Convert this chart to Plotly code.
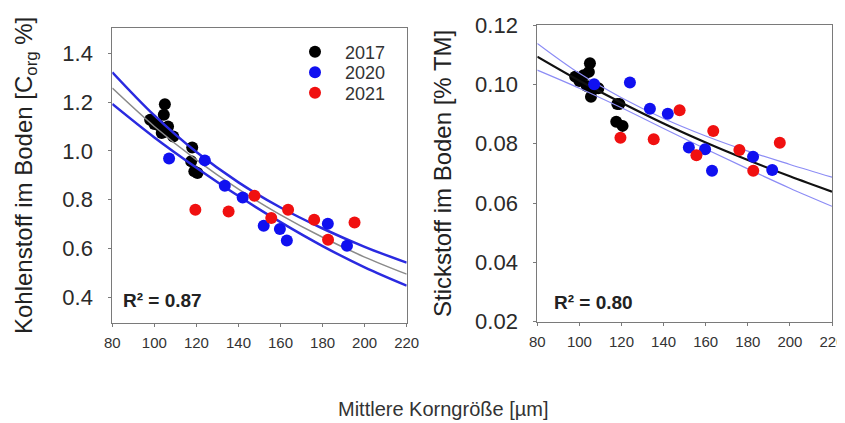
import plotly.graph_objects as go

# ---------------- data ----------------
grain_2017 = [98, 100, 102, 103.5, 104.5, 105, 105.5, 106.5, 109, 117.5, 118, 119, 120.5]
carbon_2017 = [1.127, 1.110, 1.105, 1.073, 1.148, 1.191, 1.079, 1.100, 1.059, 0.957, 1.014, 0.916, 0.909]
nitrogen_2017 = [0.1026, 0.1011, 0.1031, 0.0994, 0.1042, 0.1071, 0.0958, 0.0983, 0.0987, 0.0874, 0.0934, 0.0934, 0.0860]

grain_2020 = [107, 124, 133.5, 142, 152, 159.7, 163, 182.5, 191.6]
carbon_2020 = [0.969, 0.961, 0.857, 0.809, 0.693, 0.680, 0.633, 0.701, 0.611]
nitrogen_2020 = [0.1000, 0.1006, 0.0918, 0.0901, 0.0787, 0.0781, 0.0709, 0.0756, 0.0711]

grain_2021 = [119.5, 135.3, 147.6, 155.6, 163.6, 176, 182.6, 195.2]
carbon_2021 = [0.759, 0.752, 0.816, 0.725, 0.759, 0.718, 0.636, 0.707]
nitrogen_2021 = [0.0820, 0.0815, 0.0913, 0.0761, 0.0843, 0.0779, 0.0709, 0.0803]

fit_x = [80, 100, 120, 140, 160, 180, 200, 220]
carbon_fit = [1.257, 1.100, 0.963, 0.843, 0.738, 0.646, 0.565, 0.495]
carbon_upper = [1.322, 1.145, 0.995, 0.871, 0.768, 0.682, 0.607, 0.542]
carbon_lower = [1.192, 1.055, 0.931, 0.815, 0.708, 0.610, 0.523, 0.448]
nitrogen_fit = [0.1093, 0.1012, 0.0938, 0.0868, 0.0804, 0.0745, 0.0690, 0.0638]
nitrogen_upper = [0.1138, 0.1037, 0.0955, 0.0885, 0.0826, 0.0775, 0.0730, 0.0687]
nitrogen_lower = [0.1048, 0.0987, 0.0921, 0.0851, 0.0782, 0.0715, 0.0650, 0.0589]

years = ["2017", "2020", "2021"]
x_ticks = [80, 100, 120, 140, 160, 180, 200, 220]
c_ticks = [0.4, 0.6, 0.8, 1.0, 1.2, 1.4]
n_ticks = [0.02, 0.04, 0.06, 0.08, 0.10, 0.12]

# ---------------- styling ----------------
OFF = 8                      # default body margin of the html page
W, H = 845 - OFF, 423 - OFF  # figure size so that the page fills the window


def px(sx):
    return (sx - OFF) / W


def py(sy):
    return 1 - (sy - OFF) / H


FONT = "Liberation Sans, Arial, sans-serif"
NARROW = "Liberation Sans Narrow, Liberation Sans, Arial, sans-serif"
COL = {"2017": "#000000", "2020": "#1010f0", "2021": "#f01010"}
AXC = "#7a7a7a"
MS = 12

fig = go.Figure()

groups = {
    "2017": (grain_2017, carbon_2017, nitrogen_2017),
    "2020": (grain_2020, carbon_2020, nitrogen_2020),
    "2021": (grain_2021, carbon_2021, nitrogen_2021),
}
legend_ids = {"2017": "legend", "2020": "legend2", "2021": "legend3"}


def add_points(yr, panel):
    gx, gc, gn = groups[yr]
    if panel == 1:
        fig.add_trace(go.Scatter(x=gx, y=gc, mode="markers", name=yr,
                                 marker=dict(color=COL[yr], size=MS),
                                 xaxis="x", yaxis="y", showlegend=True,
                                 legend=legend_ids[yr]))
    else:
        fig.add_trace(go.Scatter(x=gx, y=gn, mode="markers", name=yr,
                                 marker=dict(color=COL[yr], size=MS),
                                 xaxis="x2", yaxis="y2", showlegend=False))


# left panel
add_points("2017", 1)
fig.add_trace(go.Scatter(x=fit_x, y=carbon_fit, mode="lines", line=dict(color="#8a8a8a", width=1.5, shape="spline"),
                         xaxis="x", yaxis="y", showlegend=False, hoverinfo="skip"))
for band in (carbon_upper, carbon_lower):
    fig.add_trace(go.Scatter(x=fit_x, y=band, mode="lines", line=dict(color="#2a2ae0", width=2.5, shape="spline"),
                             xaxis="x", yaxis="y", showlegend=False, hoverinfo="skip"))
add_points("2020", 1)
add_points("2021", 1)

# right panel
add_points("2017", 2)
fig.add_trace(go.Scatter(x=fit_x, y=nitrogen_fit, mode="lines", line=dict(color="#111111", width=2.2, shape="spline"),
                         xaxis="x2", yaxis="y2", showlegend=False, hoverinfo="skip"))
for band in (nitrogen_upper, nitrogen_lower):
    fig.add_trace(go.Scatter(x=fit_x, y=band, mode="lines", line=dict(color="#8c8cf5", width=1.2, shape="spline"),
                             xaxis="x2", yaxis="y2", showlegend=False, hoverinfo="skip"))
add_points("2020", 2)
add_points("2021", 2)

xaxis_common = dict(range=[80, 220], tickvals=x_ticks, ticks="outside", ticklen=3, tickcolor=AXC,
                    showline=True, linecolor=AXC, linewidth=1, mirror=True, showgrid=False, zeroline=False,
                    automargin=False, ticklabelstandoff=3, ticklabeloverflow="allow",
                    tickfont=dict(family=NARROW, size=15, color="#333333"))
yaxis_common = dict(ticks="outside", ticklen=3, tickcolor=AXC, automargin=False,
                    showline=True, linecolor=AXC, linewidth=1, mirror=True, showgrid=False, zeroline=False,
                    tickfont=dict(family=FONT, size=22, color="#2a2a2a"), ticklabelstandoff=11)

fig.update_layout(
    width=W, height=H,
    margin=dict(l=0, r=0, t=0, b=0, autoexpand=False),
    paper_bgcolor="white", plot_bgcolor="white",
    font=dict(family=FONT, color="#222222"),
    xaxis=dict(domain=[px(112.3), px(406.7)], anchor="y", **xaxis_common),
    yaxis=dict(domain=[py(322.5), py(28.3)], anchor="x", range=[0.297, 1.502], tickvals=c_ticks,
               tickformat=".1f",
               title=dict(text="Kohlenstoff im Boden [C<sub>org</sub> %]",
                          font=dict(family=FONT, size=24, color="#222222"), standoff=22),
               **yaxis_common),
    xaxis2=dict(domain=[px(537.3), px(832)], anchor="y2", **xaxis_common),
    yaxis2=dict(domain=[py(321.7), py(25)], anchor="x2", range=[0.02, 0.12], tickvals=n_ticks,
                tickformat=".2f",
                title=dict(text="Stickstoff im Boden [% TM]",
                           font=dict(family=FONT, size=24, color="#222222"), standoff=16),
                **yaxis_common),
    showlegend=True,
)

leg_y = {"2017": 52, "2020": 72.5, "2021": 93}
for yr in years:
    fig.update_layout(**{legend_ids[yr]: dict(
        x=px(285), y=py(leg_y[yr]), xanchor="left", yanchor="middle",
        bgcolor="rgba(0,0,0,0)", borderwidth=0, itemwidth=50,
        font=dict(family=FONT, size=18, color="#333333"))})

fig.add_annotation(text="<b>R² = 0.87</b>", xref="paper", yref="paper", x=px(121), y=py(300),
                   xanchor="left", yanchor="middle", showarrow=False, font=dict(family=FONT, size=19, color="#222222"))
fig.add_annotation(text="<b>R² = 0.80</b>", xref="paper", yref="paper", x=px(552), y=py(302),
                   xanchor="left", yanchor="middle", showarrow=False, font=dict(family=FONT, size=19, color="#222222"))
fig.add_annotation(text="Mittlere Korngröße [µm]", xref="paper", yref="paper", x=px(443), y=py(409),
                   xanchor="center", yanchor="middle", showarrow=False, font=dict(family=FONT, size=20, color="#333333"))

fig.write_html("out.html")
